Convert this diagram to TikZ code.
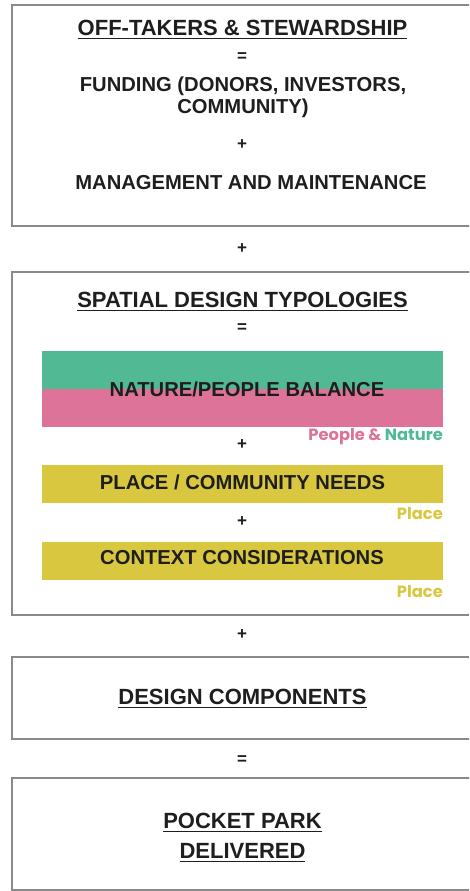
\documentclass[tikz,border=0pt]{standalone}
\usepackage{fontspec}
\setmainfont{Liberation Sans}
\newfontfamily\popp{Poppins}
\definecolor{natgreen}{HTML}{52B995}
\definecolor{peoppink}{HTML}{DD7398}
\definecolor{placeyel}{HTML}{D9C73F}
\definecolor{boxgray}{HTML}{8A8A8A}
\definecolor{txt}{HTML}{1E1E1E}
\newcommand\myul[1]{\setbox0\hbox{#1}\rlap{\rule[-3.5pt]{\wd0}{1.6pt}}\box0}
\tikzset{
  frame/.style={draw=boxgray, line width=1.8pt},
  body/.style={font=\bfseries\fontsize{20.2}{24}\selectfont, text=txt, inner sep=0pt, align=center},
  ttl/.style={font=\bfseries\fontsize{22}{26}\selectfont, text=txt, inner sep=0pt, align=center},
  op/.style={font=\bfseries\fontsize{17}{20}\selectfont, text=txt, inner sep=0pt},
  tag/.style={font=\popp\bfseries\fontsize{16.3}{18}\selectfont, inner sep=0pt, anchor=east}
}
\begin{document}
\begin{tikzpicture}[x=1pt,y=-1pt]
\useasboundingbox (0,0) rectangle (469,891);
\fill[white] (0,0) rectangle (469,891);
\begin{scope}
\clip (0,0) rectangle (469,891);
% boxes
\draw[frame] (12,5) rectangle (480,226);
\draw[frame] (12,272) rectangle (480,615);
\draw[frame] (12,657) rectangle (480,739);
\draw[frame] (12,778) rectangle (480,890);
\end{scope}
% box 1
\node[ttl] (t1) at (242.5,30) {\myul{OFF-TAKERS \& STEWARDSHIP}};
\node[op] (e1) at (242,57) {=};
\node[body] (f1) at (243,97) {FUNDING (DONORS, INVESTORS,\\[-2pt]COMMUNITY)};
\node[op] (p1) at (242,145) {+};
\node[body] (m1) at (251,183) {MANAGEMENT AND MAINTENANCE};
\node[op] (p2) at (242,249) {+};
% box 2
\node[ttl] (t2) at (242.5,302) {\myul{SPATIAL DESIGN TYPOLOGIES}};
\node[op] (e2) at (242,328) {=};
\fill[natgreen] (42,351) rectangle (443,389);
\fill[peoppink] (42,389) rectangle (443,427);
\node[body] (nb) at (247,389) {NATURE/PEOPLE BALANCE};
\node[tag] (pn) at (443,437) {\textcolor{peoppink}{People \&} \textcolor{natgreen}{Nature}};
\node[op] (p3) at (242,445) {+};
\fill[placeyel] (42,465) rectangle (443,503);
\node[body] (pc) at (242.5,482) {PLACE / COMMUNITY NEEDS};
\node[tag, text=placeyel] (pl1) at (443,514) {Place};
\node[op] (p4) at (242,522) {+};
\fill[placeyel] (42,542) rectangle (443,580);
\node[body] (cc) at (242,558) {CONTEXT CONSIDERATIONS};
\node[tag, text=placeyel] (pl2) at (443,592) {Place};
\node[op] (p5) at (242,635) {+};
% box 3
\node[ttl] (dc) at (242.5,699) {\myul{DESIGN COMPONENTS}};
\node[op] (e3) at (242,760) {=};
% box 4
\node[ttl] (pp) at (242.5,838) {\myul{POCKET PARK}\\[4pt]\myul{DELIVERED}};
\end{tikzpicture}
\end{document}
